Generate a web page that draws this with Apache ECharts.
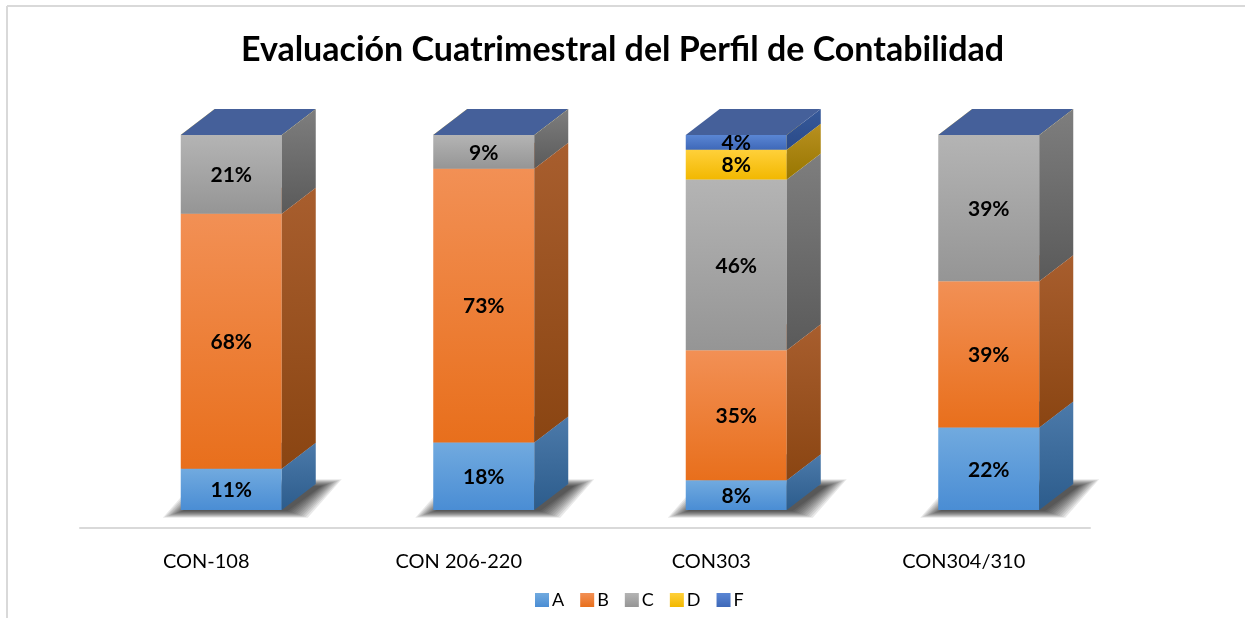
<!DOCTYPE html>
<html lang="es">
<head>
    <meta charset="UTF-8">
    <title>Evaluación Cuatrimestral</title>
    <script src="https://cdn.jsdelivr.net/npm/echarts@6/dist/echarts.min.js"></script>
    <style>
        html, body { margin: 0; padding: 0; background: #fff; }
        #chart { width: 1245px; height: 618px; }
    </style>
</head>
<body>
<div id="chart"></div>
<script>
    // datos
    var categories = ['CON-108', 'CON 206-220', 'CON303', 'CON304/310'];
    var seriesNames = ['A', 'B', 'C', 'D', 'F'];
    var valA = [11, 18, 8, 22];
    var valB = [68, 73, 35, 39];
    var valC = [21, 9, 46, 39];
    var valD = [0, 0, 8, 0];
    var valF = [0, 0, 4, 0];
    var allVals = [valA, valB, valC, valD, valF];

    // colores: frente (arriba, abajo), lado (arriba, abajo), tapa
    var frontCol = [['#71aadf', '#4a8dd4'], ['#f29055', '#e86f1c'], ['#b4b4b4', '#959595'], ['#ffd03a', '#f2b800'], ['#5a86d4', '#3e68b8']];
    var sideCol = [['#4c7aaa', '#2c5c8c'], ['#a85e2e', '#8a4512'], ['#7e7e7e', '#5a5a5a'], ['#b89020', '#987600'], ['#36599a', '#2a4a88']];
    var topCol = ['#5e8fc8', '#f09a66', '#c0c0c0', '#ffd54f', '#45609a'];

    var OFFSET = 25, HALF_W = 50.5, DX = 34, DY = 26;

    function grad(c) {
        return new echarts.graphic.LinearGradient(0, 0, 0, 1, [
            {offset: 0, color: c[0]}, {offset: 1, color: c[1]}
        ]);
    }

    // 100% apilado: posiciones según el total de cada categoría
    var totals = categories.map(function (c, i) {
        return allVals.reduce(function (a, v) { return a + v[i]; }, 0);
    });

    function buildData(s) {
        return categories.map(function (c, i) {
            var lo = 0;
            for (var k = 0; k < s; k++) lo += allVals[k][i];
            var hi = lo + allVals[s][i];
            return [i, lo / totals[i] * 100, hi / totals[i] * 100, allVals[s][i]];
        });
    }

    function makeRender(s) {
        return function (params, api) {
            var ci = api.value(0), raw = api.value(3);
            var p0 = api.coord([ci, api.value(1)]);
            var p1 = api.coord([ci, api.value(2)]);
            var x0 = p0[0] + OFFSET - HALF_W, x1 = p0[0] + OFFSET + HALF_W;
            var yb = p0[1], yt = p1[1];
            var children = [];
            if (s === 0) {
                // sombra difusa en el piso, capas superpuestas
                for (var e = 20; e >= 0; e -= 2) {
                    children.push({
                        type: 'polygon',
                        shape: {points: [[x0 + 2 - e, yb + 1 + e / 3], [x1 + 6 + e, yb + 1 + e / 3], [x1 + 40 + e, yb - 24 - e / 3], [x0 + 36 - e, yb - 24 - e / 3]]},
                        style: {fill: 'rgba(0,0,0,0.09)'}
                    });
                }
            }
            children.push({
                type: 'rect',
                shape: {x: x0, y: yt, width: x1 - x0, height: yb - yt},
                style: {fill: grad(frontCol[s])}
            });
            children.push({
                type: 'polygon',
                shape: {points: [[x1, yt], [x1 + DX, yt - DY], [x1 + DX, yb - DY], [x1, yb]]},
                style: {fill: grad(sideCol[s])}
            });
            children.push({
                type: 'polygon',
                shape: {points: [[x0, yt], [x1, yt], [x1 + DX, yt - DY], [x0 + DX, yt - DY]]},
                style: {fill: topCol[s]}
            });
            if (raw > 0) {
                children.push({
                    type: 'text',
                    x: (x0 + x1) / 2,
                    y: (yt + yb) / 2 + 1,
                    style: {
                        text: raw + '%',
                        fontFamily: 'Lato', fontSize: 21, fontWeight: 'bold',
                        fill: '#000', align: 'center', verticalAlign: 'middle'
                    }
                });
            }
            return {type: 'group', children: children};
        };
    }

    var series = seriesNames.map(function (name, s) {
        return {
            name: name,
            type: 'custom',
            renderItem: makeRender(s),
            data: buildData(s),
            encode: {x: 0, y: [1, 2]},
            itemStyle: {color: grad(frontCol[s])}
        };
    });

    var chart = echarts.init(document.getElementById('chart'));
    chart.setOption({
        animation: false,
        backgroundColor: '#fff',
        title: {
            text: 'Evaluación Cuatrimestral del Perfil de Contabilidad',
            left: 'center',
            top: 28,
            textStyle: {fontFamily: 'Lato', fontSize: 34, fontWeight: 'bold', color: '#000'}
        },
        legend: {
            data: seriesNames,
            left: 530,
            top: 586,
            icon: 'rect',
            itemWidth: 14,
            itemHeight: 14,
            itemGap: 16,
            textStyle: {fontFamily: 'Lato', fontSize: 18, color: '#000', padding: [0, 0, 0, -2]}
        },
        grid: {left: 80, right: 155, top: 135, bottom: 108},
        xAxis: {
            type: 'category',
            data: categories,
            offset: 18,
            axisLine: {onZero: false, lineStyle: {color: '#d9d9d9', width: 2}},
            axisTick: {show: false},
            axisLabel: {fontFamily: 'Lato', fontSize: 20, color: '#000', margin: 24}
        },
        yAxis: {type: 'value', min: 0, max: 100, show: false},
        graphic: [
            {type: 'line', shape: {x1: 7, y1: 6, x2: 1245, y2: 6}, style: {stroke: '#d9d9d9', lineWidth: 2}},
            {type: 'line', shape: {x1: 7, y1: 6, x2: 7, y2: 618}, style: {stroke: '#d9d9d9', lineWidth: 2}}
        ],
        series: series
    });
</script>
</body>
</html>
